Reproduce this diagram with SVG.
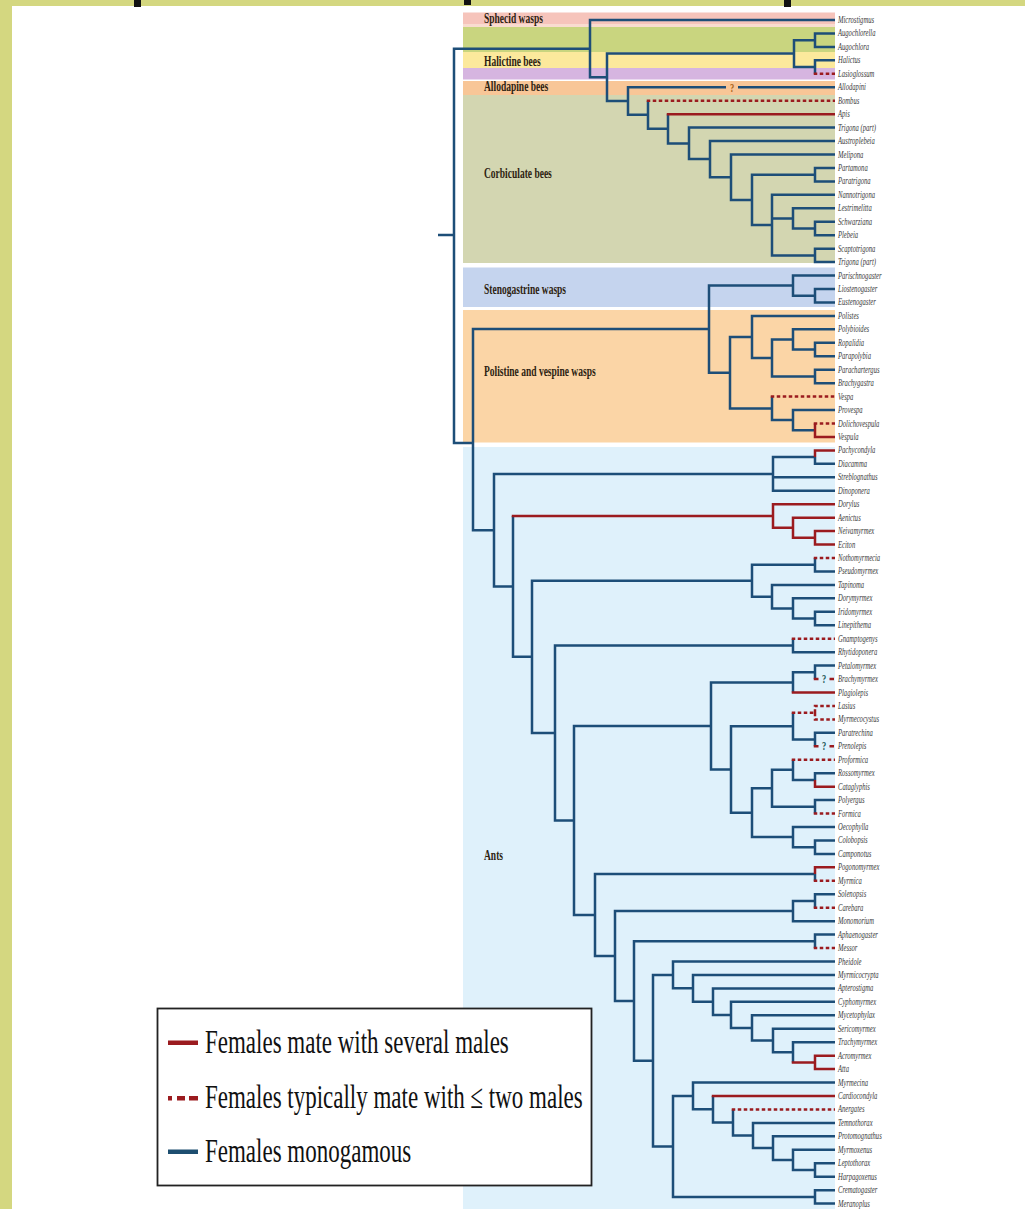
<svg xmlns="http://www.w3.org/2000/svg" width="1025" height="1209" viewBox="0 0 1025 1209">
<style>
.b{fill:none;stroke:#1d4e78;stroke-width:2.5;stroke-linejoin:miter}
.r{fill:none;stroke:#9b1b1f;stroke-width:2.5;stroke-linejoin:miter}
.d{fill:none;stroke:#9b1b1f;stroke-width:2.5;stroke-dasharray:3.5 2.5}
.t{font-family:"Liberation Serif",serif;font-style:italic;font-size:6.6px;fill:#3a3a3a}
.g{font-family:"Liberation Serif",serif;font-weight:bold;font-size:9.5px;fill:#2e1f12}
.l{font-family:"Liberation Serif",serif;font-size:23px;fill:#111}
.q{font-family:"Liberation Serif",serif;font-weight:bold;font-size:8.5px;text-anchor:middle}
</style>
<rect width="1025" height="1209" fill="#fff"/>
<rect x="0" y="0" width="1025" height="6" fill="#d4d780"/>
<rect x="0" y="0" width="12" height="1209" fill="#d4d780"/>
<rect x="134" y="0" width="7" height="7" fill="#111"/>
<rect x="464" y="0" width="7" height="5" fill="#111"/>
<rect x="784" y="0" width="7" height="7" fill="#111"/>
<g id="bands">
<rect x="463" y="12.5" width="372" height="11.5" fill="#f6c4bb"/>
<rect x="463" y="24" width="372" height="3" fill="#f9dcd0"/>
<rect x="463" y="27" width="372" height="25" fill="#c9d57f"/>
<rect x="463" y="52" width="372" height="16" fill="#fce99c"/>
<rect x="463" y="68" width="372" height="11.5" fill="#d6b5e0"/>
<rect x="463" y="81" width="372" height="14" fill="#f8c697"/>
<rect x="463" y="95" width="372" height="168" fill="#d3d6b1"/>
<rect x="463" y="267.5" width="372" height="39.5" fill="#c5d4ee"/>
<rect x="463" y="310" width="372" height="132.5" fill="#fbd5a6"/>
<rect x="463" y="447" width="372" height="762" fill="#dff1fb"/>
</g>
<g id="group-labels">
<g id="lbl-sphecid"><text class="g" transform="translate(484 23) scale(1 1.5)">Sphecid wasps</text></g>
<g id="lbl-halictine"><text class="g" transform="translate(484 65.5) scale(1 1.5)">Halictine bees</text></g>
<g id="lbl-allodapine"><text class="g" transform="translate(484 91) scale(1 1.5)">Allodapine bees</text></g>
<g id="lbl-corbiculate"><text class="g" transform="translate(484 178) scale(1 1.5)">Corbiculate bees</text></g>
<g id="lbl-stenogastrine"><text class="g" transform="translate(484 294) scale(1 1.5)">Stenogastrine wasps</text></g>
<g id="lbl-polistine"><text class="g" transform="translate(484 376) scale(1 1.5)">Polistine and vespine wasps</text></g>
<g id="lbl-ants"><text class="g" transform="translate(484 860) scale(1 1.5)">Ants</text></g>
</g>
<g id="connectors">
<path class="b" d="M438 235H454M454 235V48.65H590M454 235V443H473
M590 48.65V20H835M590 48.65V77.3H607
M607 77.3V53.6H794M607 77.3V101H628
M794 53.6V40.2H815M794 53.6V67.1H815
M815 40.2V33.45H835M815 40.2V46.9H835
M815 67.1V60.35H835M815 67.1V73.8
M628 101V87.25H726M738 87.25H835M628 101V114.75H648
M648 114.75V100.7M648 114.75V128.8H668
M668 128.8V114.15M668 128.8V143.4H689
M689 143.4V127.6H835M689 143.4V159.1H710
M710 159.1V141.05H835M710 159.1V177.2H731
M731 177.2V154.5H835M731 177.2V199.9H752
M752 199.9V174.7H815M752 199.9V225.1H772
M815 174.7V167.95H835M815 174.7V181.4H835
M772 225.1V194.85H835M772 225.1V218.4H793M772 225.1V255.4H815
M793 218.4V208.3H835M793 218.4V228.5H815
M815 228.5V221.75H835M815 228.5V235.2H835
M815 255.4V248.65H835M815 255.4V262.1H835
M473 443V329.1H709M473 443V530.15H494
M709 329.1V285.6H793M709 329.1V372.65H730
M793 285.6V275.55H835M793 285.6V295.7H815
M815 295.7V289H835M815 295.7V302.45H835
M730 372.65V336.9H752M730 372.65V408.4H772
M752 336.9V315.9H835M752 336.9V357.9H772
M772 357.9V339.4H793M772 357.9V376.4H815
M793 339.4V329.35H835M793 339.4V349.5H815
M815 349.5V342.8H835M815 349.5V356.25H835
M815 376.4V369.7H835M815 376.4V383.15H835
M772 408.4V396.6M772 408.4V420.1H793
M793 420.1V410.05H835M793 420.1V430.2H815
M494 530.15V473.9H773M494 530.15V586.4H513
M773 473.9V457.1H815M773 473.9V477.3H835M773 473.9V490.75H835
M815 457.1V463.85H835
M513 586.4V515.95M513 586.4V656.8H532
M532 656.8V580.7H752M532 656.8V732.95H555
M752 580.7V564.7H815M752 580.7V596.65H772
M815 564.7V558M815 564.7V571.45H835
M772 596.65V584.9H835M772 596.65V608.4H793
M793 608.4V598.35H835M793 608.4V618.5H815
M815 618.5V611.8H835M815 618.5V625.25H835
M555 732.95V645.4H793M555 732.95V820.5H574
M793 645.4V638.7M793 645.4V652.15H835
M574 820.5V725.9H711M574 820.5V915.1H595
M711 725.9V682.4H793M711 725.9V769.4H731
M793 682.4V672.3H815M793 682.4V692.5
M815 672.3V665.6H835M815 672.3V679.05
M731 769.4V726.15H793M731 769.4V812.7H752
M793 726.15V712.7M793 726.15V739.6H815
M815 739.6V732.85H835M815 739.6V746.3
M752 812.7V788.3H772M752 812.7V837.1H793
M772 788.3V769.8H793M772 788.3V806.8H815
M793 769.8V759.75M793 769.8V779.9H815
M815 779.9V773.2H835
M815 806.8V800.1H835M815 806.8V813.55
M793 837.1V827H835M793 837.1V847.2H815
M815 847.2V840.45H835M815 847.2V853.9H835
M595 915.1V874.1H815M595 915.1V956.05H615
M815 874.1V880.8
M615 956.05V911.1H793M615 956.05V1001H634
M793 911.1V901H815M793 911.1V921.15H835
M815 901V894.25H835M815 901V907.7
M634 1001V941.3H815M634 1001V1060.65H653
M815 941.3V934.6H835M815 941.3V948.05
M653 1060.65V974.9H673M653 1060.65V1146.4H673
M673 974.9V961.5H835M673 974.9V988.3H693
M693 988.3V974.95H835M693 988.3V1001.65H713
M713 1001.65V988.4H835M713 1001.65V1014.9H731
M731 1014.9V1001.85H835M731 1014.9V1027.9H752
M752 1027.9V1015.3H835M752 1027.9V1040.5H773
M773 1040.5V1028.75H835M773 1040.5V1052.3H793
M793 1052.3V1042.2H835M793 1052.3V1062.4
M673 1146.4V1095.9H693M673 1146.4V1196.9H815
M693 1095.9V1082.55H835M693 1095.9V1109.25H713
M713 1109.25V1096M713 1109.25V1122.5H733
M733 1122.5V1109.45M733 1122.5V1135.5H753
M753 1135.5V1122.9H835M753 1135.5V1148.1H773
M773 1148.1V1136.35H835M773 1148.1V1159.9H793
M793 1159.9V1149.8H835M793 1159.9V1170H815
M815 1170V1163.25H835M815 1170V1176.7H835
M815 1196.9V1190.15H835M815 1196.9V1203.6H835"/>
<path class="r" d="M666.75 114.15H835
M815 430.2V423.5M815 430.2V436.95H835
M815 457.1V450.4H835
M511.75 515.95H773
M773 515.95V504.2H835M773 515.95V527.7H793
M793 527.7V517.65H835M793 527.7V537.8H815
M815 537.8V531.1H835M815 537.8V544.55H835
M791.75 692.5H835
M815 779.9V786.65H835
M815 874.1V867.35H835
M791.75 1062.4H815
M815 1062.4V1055.65H835M815 1062.4V1069.1H835
M711.75 1096H835
M813.75 679.05H818.5M829.5 679.05H834
M813.75 746.3H818.5M829.5 746.3H834"/>
<path class="d" d="M813.75 73.8H835
M646.75 100.7H835
M770.75 396.6H835
M813.75 423.5H835
M813.75 558H835
M791.75 638.7H835
M791.75 712.7H815
M815 712.7V705.95H835M815 712.7V719.4H835
M791.75 759.75H835
M813.75 813.55H835
M813.75 880.8H835
M813.75 907.7H835
M813.75 948.05H835
M731.75 1109.45H835"/>
<text class="q" fill="#a8641c" transform="translate(732 91.5) scale(1 1.5)">?</text>
<text class="q" fill="#1e5a5a" transform="translate(824 682.5) scale(1 1.5)">?</text>
<text class="q" fill="#1e5a5a" transform="translate(824 749.8) scale(1 1.5)">?</text>
</g>
<g id="tips">
<g id="tip01"><text class="t" transform="translate(838 23) scale(1 1.5)">Microstigmus</text></g>
<g id="tip02"><text class="t" transform="translate(838 36.45) scale(1 1.5)">Augochlorella</text></g>
<g id="tip03"><text class="t" transform="translate(838 49.9) scale(1 1.5)">Augochlora</text></g>
<g id="tip04"><text class="t" transform="translate(838 63.35) scale(1 1.5)">Halictus</text></g>
<g id="tip05"><text class="t" transform="translate(838 76.8) scale(1 1.5)">Lasioglossum</text></g>
<g id="tip06"><text class="t" transform="translate(838 90.25) scale(1 1.5)">Allodapini</text></g>
<g id="tip07"><text class="t" transform="translate(838 103.7) scale(1 1.5)">Bombus</text></g>
<g id="tip08"><text class="t" transform="translate(838 117.15) scale(1 1.5)">Apis</text></g>
<g id="tip09"><text class="t" transform="translate(838 130.6) scale(1 1.5)">Trigona (part)</text></g>
<g id="tip10"><text class="t" transform="translate(838 144.05) scale(1 1.5)">Austroplebeia</text></g>
<g id="tip11"><text class="t" transform="translate(838 157.5) scale(1 1.5)">Melipona</text></g>
<g id="tip12"><text class="t" transform="translate(838 170.95) scale(1 1.5)">Partamona</text></g>
<g id="tip13"><text class="t" transform="translate(838 184.4) scale(1 1.5)">Paratrigona</text></g>
<g id="tip14"><text class="t" transform="translate(838 197.85) scale(1 1.5)">Nannotrigona</text></g>
<g id="tip15"><text class="t" transform="translate(838 211.3) scale(1 1.5)">Lestrimelitta</text></g>
<g id="tip16"><text class="t" transform="translate(838 224.75) scale(1 1.5)">Schwarziana</text></g>
<g id="tip17"><text class="t" transform="translate(838 238.2) scale(1 1.5)">Plebeia</text></g>
<g id="tip18"><text class="t" transform="translate(838 251.65) scale(1 1.5)">Scaptotrigona</text></g>
<g id="tip19"><text class="t" transform="translate(838 265.1) scale(1 1.5)">Trigona (part)</text></g>
<g id="tip20"><text class="t" transform="translate(838 278.55) scale(1 1.5)">Parischnogaster</text></g>
<g id="tip21"><text class="t" transform="translate(838 292) scale(1 1.5)">Liostenogaster</text></g>
<g id="tip22"><text class="t" transform="translate(838 305.45) scale(1 1.5)">Eustenogaster</text></g>
<g id="tip23"><text class="t" transform="translate(838 318.9) scale(1 1.5)">Polistes</text></g>
<g id="tip24"><text class="t" transform="translate(838 332.35) scale(1 1.5)">Polybioides</text></g>
<g id="tip25"><text class="t" transform="translate(838 345.8) scale(1 1.5)">Ropalidia</text></g>
<g id="tip26"><text class="t" transform="translate(838 359.25) scale(1 1.5)">Parapolybia</text></g>
<g id="tip27"><text class="t" transform="translate(838 372.7) scale(1 1.5)">Parachartergus</text></g>
<g id="tip28"><text class="t" transform="translate(838 386.15) scale(1 1.5)">Brachygastra</text></g>
<g id="tip29"><text class="t" transform="translate(838 399.6) scale(1 1.5)">Vespa</text></g>
<g id="tip30"><text class="t" transform="translate(838 413.05) scale(1 1.5)">Provespa</text></g>
<g id="tip31"><text class="t" transform="translate(838 426.5) scale(1 1.5)">Dolichovespula</text></g>
<g id="tip32"><text class="t" transform="translate(838 439.95) scale(1 1.5)">Vespula</text></g>
<g id="tip33"><text class="t" transform="translate(838 453.4) scale(1 1.5)">Pachycondyla</text></g>
<g id="tip34"><text class="t" transform="translate(838 466.85) scale(1 1.5)">Diacamma</text></g>
<g id="tip35"><text class="t" transform="translate(838 480.3) scale(1 1.5)">Streblognathus</text></g>
<g id="tip36"><text class="t" transform="translate(838 493.75) scale(1 1.5)">Dinoponera</text></g>
<g id="tip37"><text class="t" transform="translate(838 507.2) scale(1 1.5)">Dorylus</text></g>
<g id="tip38"><text class="t" transform="translate(838 520.65) scale(1 1.5)">Aenictus</text></g>
<g id="tip39"><text class="t" transform="translate(838 534.1) scale(1 1.5)">Neivamyrmex</text></g>
<g id="tip40"><text class="t" transform="translate(838 547.55) scale(1 1.5)">Eciton</text></g>
<g id="tip41"><text class="t" transform="translate(838 561) scale(1 1.5)">Nothomyrmecia</text></g>
<g id="tip42"><text class="t" transform="translate(838 574.45) scale(1 1.5)">Pseudomyrmex</text></g>
<g id="tip43"><text class="t" transform="translate(838 587.9) scale(1 1.5)">Tapinoma</text></g>
<g id="tip44"><text class="t" transform="translate(838 601.35) scale(1 1.5)">Dorymyrmex</text></g>
<g id="tip45"><text class="t" transform="translate(838 614.8) scale(1 1.5)">Iridomyrmex</text></g>
<g id="tip46"><text class="t" transform="translate(838 628.25) scale(1 1.5)">Linepithema</text></g>
<g id="tip47"><text class="t" transform="translate(838 641.7) scale(1 1.5)">Gnamptogenys</text></g>
<g id="tip48"><text class="t" transform="translate(838 655.15) scale(1 1.5)">Rhytidoponera</text></g>
<g id="tip49"><text class="t" transform="translate(838 668.6) scale(1 1.5)">Petalomyrmex</text></g>
<g id="tip50"><text class="t" transform="translate(838 682.05) scale(1 1.5)">Brachymyrmex</text></g>
<g id="tip51"><text class="t" transform="translate(838 695.5) scale(1 1.5)">Plagiolepis</text></g>
<g id="tip52"><text class="t" transform="translate(838 708.95) scale(1 1.5)">Lasius</text></g>
<g id="tip53"><text class="t" transform="translate(838 722.4) scale(1 1.5)">Myrmecocystus</text></g>
<g id="tip54"><text class="t" transform="translate(838 735.85) scale(1 1.5)">Paratrechina</text></g>
<g id="tip55"><text class="t" transform="translate(838 749.3) scale(1 1.5)">Prenolepis</text></g>
<g id="tip56"><text class="t" transform="translate(838 762.75) scale(1 1.5)">Proformica</text></g>
<g id="tip57"><text class="t" transform="translate(838 776.2) scale(1 1.5)">Rossomyrmex</text></g>
<g id="tip58"><text class="t" transform="translate(838 789.65) scale(1 1.5)">Cataglyphis</text></g>
<g id="tip59"><text class="t" transform="translate(838 803.1) scale(1 1.5)">Polyergus</text></g>
<g id="tip60"><text class="t" transform="translate(838 816.55) scale(1 1.5)">Formica</text></g>
<g id="tip61"><text class="t" transform="translate(838 830) scale(1 1.5)">Oecophylla</text></g>
<g id="tip62"><text class="t" transform="translate(838 843.45) scale(1 1.5)">Colobopsis</text></g>
<g id="tip63"><text class="t" transform="translate(838 856.9) scale(1 1.5)">Camponotus</text></g>
<g id="tip64"><text class="t" transform="translate(838 870.35) scale(1 1.5)">Pogonomyrmex</text></g>
<g id="tip65"><text class="t" transform="translate(838 883.8) scale(1 1.5)">Myrmica</text></g>
<g id="tip66"><text class="t" transform="translate(838 897.25) scale(1 1.5)">Solenopsis</text></g>
<g id="tip67"><text class="t" transform="translate(838 910.7) scale(1 1.5)">Carebara</text></g>
<g id="tip68"><text class="t" transform="translate(838 924.15) scale(1 1.5)">Monomorium</text></g>
<g id="tip69"><text class="t" transform="translate(838 937.6) scale(1 1.5)">Aphaenogaster</text></g>
<g id="tip70"><text class="t" transform="translate(838 951.05) scale(1 1.5)">Messor</text></g>
<g id="tip71"><text class="t" transform="translate(838 964.5) scale(1 1.5)">Pheidole</text></g>
<g id="tip72"><text class="t" transform="translate(838 977.95) scale(1 1.5)">Myrmicocrypta</text></g>
<g id="tip73"><text class="t" transform="translate(838 991.4) scale(1 1.5)">Apterostigma</text></g>
<g id="tip74"><text class="t" transform="translate(838 1004.85) scale(1 1.5)">Cyphomyrmex</text></g>
<g id="tip75"><text class="t" transform="translate(838 1018.3) scale(1 1.5)">Mycetophylax</text></g>
<g id="tip76"><text class="t" transform="translate(838 1031.75) scale(1 1.5)">Sericomyrmex</text></g>
<g id="tip77"><text class="t" transform="translate(838 1045.2) scale(1 1.5)">Trachymyrmex</text></g>
<g id="tip78"><text class="t" transform="translate(838 1058.65) scale(1 1.5)">Acromyrmex</text></g>
<g id="tip79"><text class="t" transform="translate(838 1072.1) scale(1 1.5)">Atta</text></g>
<g id="tip80"><text class="t" transform="translate(838 1085.55) scale(1 1.5)">Myrmecina</text></g>
<g id="tip81"><text class="t" transform="translate(838 1099) scale(1 1.5)">Cardiocondyla</text></g>
<g id="tip82"><text class="t" transform="translate(838 1112.45) scale(1 1.5)">Anergates</text></g>
<g id="tip83"><text class="t" transform="translate(838 1125.9) scale(1 1.5)">Temnothorax</text></g>
<g id="tip84"><text class="t" transform="translate(838 1139.35) scale(1 1.5)">Protomognathus</text></g>
<g id="tip85"><text class="t" transform="translate(838 1152.8) scale(1 1.5)">Myrmoxenus</text></g>
<g id="tip86"><text class="t" transform="translate(838 1166.25) scale(1 1.5)">Leptothorax</text></g>
<g id="tip87"><text class="t" transform="translate(838 1179.7) scale(1 1.5)">Harpagoxenus</text></g>
<g id="tip88"><text class="t" transform="translate(838 1193.15) scale(1 1.5)">Crematogaster</text></g>
<g id="tip89"><text class="t" transform="translate(838 1206.6) scale(1 1.5)">Meranoplus</text></g>
</g>
<g id="legend">
<rect x="157.5" y="1008.5" width="434" height="177" fill="#fff" stroke="#222" stroke-width="1.8"/>
<rect x="168" y="1040.5" width="30" height="4.5" fill="#9b1b1f"/>
<rect x="168" y="1096" width="4" height="4.5" fill="#9b1b1f"/>
<rect x="177" y="1096" width="8" height="4.5" fill="#9b1b1f"/>
<rect x="189" y="1096" width="9" height="4.5" fill="#9b1b1f"/>
<rect x="168" y="1149.5" width="30" height="4.5" fill="#1d4e70"/>
<text class="l" transform="translate(205 1052.7) scale(1 1.5)">Females mate with several males</text>
<text class="l" transform="translate(205 1107.5) scale(1 1.5)">Females typically mate with ≤ two males</text>
<text class="l" transform="translate(205 1161.5) scale(1 1.5)">Females monogamous</text>
</g>
</svg>
